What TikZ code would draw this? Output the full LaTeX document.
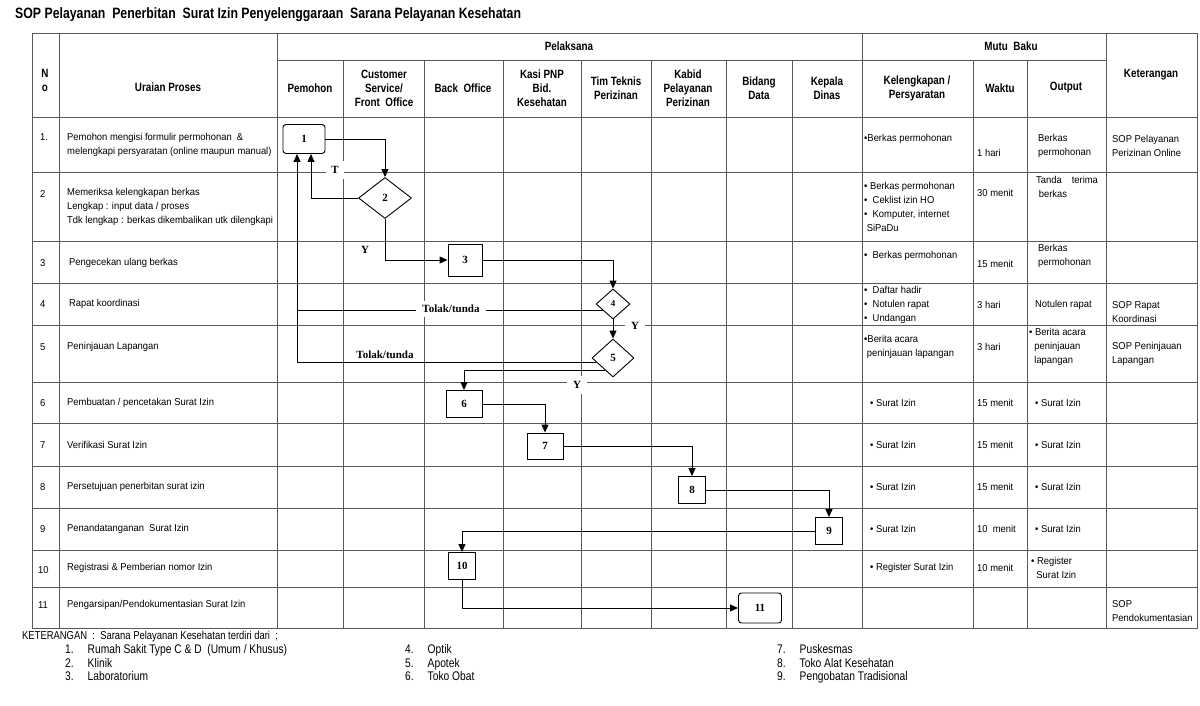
\documentclass[tikz,border=0pt]{standalone}
\usepackage{fontspec}
\setmainfont{Liberation Sans}
\newfontfamily\narrowfont[FakeStretch=0.82]{Liberation Sans}
\newfontfamily\condfont[FakeStretch=0.94]{Liberation Sans}
\newfontfamily\boxfont{Liberation Serif}
\usetikzlibrary{
  arrows.meta,
  shapes.geometric,
  backgrounds
}

\begin{document}
\begin{tikzpicture}[x=1pt,y=-1pt,
  gridline/.style={draw=black!65,line width=0.8pt},
  hd/.style={font=\narrowfont\bfseries\fontsize{12}{14}\selectfont,align=center,inner sep=0pt},
  tx/.style={font=\condfont\fontsize{10}{14}\selectfont,anchor=west,align=left,inner sep=0pt},
  ft/.style={font=\narrowfont\fontsize{11.5}{13.5}\selectfont,anchor=west,inner sep=0pt},
  procbox/.style={draw,line width=0.9pt,inner sep=0pt,font=\boxfont\bfseries\fontsize{11}{12}\selectfont},
  term/.style={procbox,rounded corners=3pt},
  decbox/.style={procbox,diamond},
  lbl/.style={font=\boxfont\bfseries\fontsize{11}{12}\selectfont,inner sep=2pt},
  ar/.style={-{Triangle[length=8pt,width=7pt]},line width=0.9pt}
]
\useasboundingbox (0,0) rectangle (1200,706);

\node[anchor=west,inner sep=0pt,font=\narrowfont\bfseries\fontsize{15}{17}\selectfont] (title) at (15,15) {SOP Pelayanan\ \ Penerbitan\ \ Surat Izin Penyelenggaraan\ \ Sarana Pelayanan Kesehatan};

% header
\node[hd] (hNo) at (45,80) {N\\o};
\node[hd] (hUraian) at (168,87) {Uraian Proses};
\node[hd] (hPelaksana) at (569,46) {Pelaksana};
\node[hd] (hMutu) at (1011,46) {Mutu\ \ Baku};
\node[hd] (hKet) at (1151,75) {Keterangan};
\node[hd] (hPemohon) at (310,88) {Pemohon};
\node[hd] (hCS) at (384,88) {Customer\\Service/\\Front\ \ Office};
\node[hd] (hBO) at (463,88) {Back\ \ Office};
\node[hd] (hKasi) at (542,88) {Kasi PNP\\Bid.\\Kesehatan};
\node[hd] (hTim) at (616,88) {Tim Teknis\\Perizinan};
\node[hd] (hKabid) at (688,88) {Kabid\\Pelayanan\\Perizinan};
\node[hd] (hBidang) at (759,88) {Bidang\\Data};
\node[hd] (hKepala) at (827,88) {Kepala\\Dinas};
\node[hd] (hKel) at (917,88) {Kelengkapan /\\Persyaratan};
\node[hd] (hWaktu) at (1000,88) {Waktu};
\node[hd] (hOutput) at (1066,88) {Output};

% rows
\node[tx] (no1) at (40,137) {1.};
\node[tx] (ur1) at (67,145) {Pemohon mengisi formulir permohonan\ \ \&\\melengkapi persyaratan (online maupun manual)};
\node[tx] (kl1) at (864,139) {•Berkas permohonan};
\node[tx] (wk1) at (977,153) {1 hari};
\node[tx] (op1) at (1038,146) {Berkas\\permohonan};
\node[tx] (kt1) at (1112,146) {SOP Pelayanan\\Perizinan Online};

\node[tx] (no2) at (40,194) {2};
\node[tx] (ur2) at (67,207) {Memeriksa kelengkapan berkas\\Lengkap : input data / proses\\Tdk lengkap : berkas dikembalikan utk dilengkapi};
\node[tx] (kl2) at (864,207) {• Berkas permohonan\\•\ \ Ceklist izin HO\\•\ \ Komputer, internet\\\ SiPaDu};
\node[tx] (wk2) at (977,193) {30 menit};
\node[tx] (op2) at (1036,187) {Tanda\hspace{10pt}terima\\\ berkas};

\node[tx] (no3) at (40,263) {3};
\node[tx] (ur3) at (69,263) {Pengecekan ulang berkas};
\node[tx] (kl3) at (864,256) {•\ \ Berkas permohonan};
\node[tx] (wk3) at (977,264) {15 menit};
\node[tx] (op3) at (1038,256) {Berkas\\permohonan};

\node[tx] (no4) at (40,304) {4};
\node[tx] (ur4) at (69,304) {Rapat koordinasi};
\node[tx] (kl4) at (864,305) {•\ \ Daftar hadir\\•\ \ Notulen rapat\\•\ \ Undangan};
\node[tx] (wk4) at (977,305) {3 hari};
\node[tx] (op4) at (1035,305) {Notulen rapat};
\node[tx] (kt4) at (1112,312) {SOP Rapat\\Koordinasi};

\node[tx] (no5) at (40,347) {5};
\node[tx] (ur5) at (67,347) {Peninjauan Lapangan};
\node[tx] (kl5) at (864,347) {•Berita acara\\\ peninjauan lapangan};
\node[tx] (wk5) at (977,347) {3 hari};
\node[tx] (op5) at (1029,347) {• Berita acara\\\ \ peninjauan\\\ \ lapangan};
\node[tx] (kt5) at (1112,354) {SOP Peninjauan\\Lapangan};

\node[tx] (no6) at (40,403) {6};
\node[tx] (ur6) at (67,403) {Pembuatan / pencetakan Surat Izin};
\node[tx] (kl6) at (870,403) {• Surat Izin};
\node[tx] (wk6) at (977,403) {15 menit};
\node[tx] (op6) at (1035,403) {• Surat Izin};

\node[tx] (no7) at (40,445) {7};
\node[tx] (ur7) at (67,445) {Verifikasi Surat Izin};
\node[tx] (kl7) at (870,445) {• Surat Izin};
\node[tx] (wk7) at (977,445) {15 menit};
\node[tx] (op7) at (1035,445) {• Surat Izin};

\node[tx] (no8) at (40,487) {8};
\node[tx] (ur8) at (67,487) {Persetujuan penerbitan surat izin};
\node[tx] (kl8) at (870,487) {• Surat Izin};
\node[tx] (wk8) at (977,487) {15 menit};
\node[tx] (op8) at (1035,487) {• Surat Izin};

\node[tx] (no9) at (40,529) {9};
\node[tx] (ur9) at (67,529) {Penandatanganan\ \ Surat Izin};
\node[tx] (kl9) at (870,529) {• Surat Izin};
\node[tx] (wk9) at (977,529) {10\ \ menit};
\node[tx] (op9) at (1035,529) {• Surat Izin};

\node[tx] (no10) at (38,570) {10};
\node[tx] (ur10) at (67,568) {Registrasi \& Pemberian nomor Izin};
\node[tx] (kl10) at (870,568) {• Register Surat Izin};
\node[tx] (wk10) at (977,568) {10 menit};
\node[tx] (op10) at (1031,568) {• Register\\\ \ Surat Izin};

\node[tx] (no11) at (38,605) {11};
\node[tx] (ur11) at (67,605) {Pengarsipan/Pendokumentasian Surat Izin};
\node[tx] (kt11) at (1112,611) {SOP\\Pendokumentasian};

% flow
\node[term,minimum width=42pt,minimum height=29pt] (b1) at (304,139) {1};
\node[decbox,minimum width=53pt,minimum height=41pt] (d2) at (385,198) {2};
\node[procbox,minimum width=34pt,minimum height=32pt] (b3) at (465,260) {3};
\node[decbox,minimum width=34pt,minimum height=30pt,font=\boxfont\bfseries\fontsize{9}{10}\selectfont] (d4) at (613,304) {4};
\node[decbox,minimum width=42pt,minimum height=38pt] (d5) at (613,358) {5};
\node[procbox,minimum width=36pt,minimum height=27pt] (b6) at (464,404) {6};
\node[procbox,minimum width=36pt,minimum height=26pt] (b7) at (545,446) {7};
\node[procbox,minimum width=27pt,minimum height=27pt] (b8) at (692,490) {8};
\node[procbox,minimum width=27pt,minimum height=27pt] (b9) at (829,531) {9};
\node[procbox,minimum width=27pt,minimum height=27pt] (b10) at (462,566) {10};
\node[term,minimum width=43pt,minimum height=30pt] (b11) at (760,608) {11};

\draw[ar] (b1.east) -| (d2.north);
\draw[ar] (d2.west) -| (b1.-65);
\draw[ar] (d2.south) |- (b3.west);
\draw[ar] (b3.east) -| (d4.north);
\draw[ar] (d4.south) -- (d5.north);
\draw[line width=0.9pt] (d4.215) -- (d4.215 -| b1.-115);
\draw[ar] (d5.195) -| (b1.-115);
\draw[ar] (d5.237) -| (b6.north);
\draw[ar] (b6.east) -| (b7.north);
\draw[ar] (b7.east) -| (b8.north);
\draw[ar] (b8.east) -| (b9.north);
\draw[ar] (b9.west) -| (b10.north);
\draw[ar] (b10.south) |- (b11.west);

\node[lbl,fill=white,inner xsep=5pt,inner ysep=5pt] (lT) at (335,170) {T};
\node[lbl] (lY1) at (365,250) {Y};
\node[lbl,fill=white,inner xsep=6pt,inner ysep=4pt] (lTolak1) at (451,309) {Tolak/tunda};
\node[lbl,fill=white,inner xsep=6pt] (lY2) at (635,326) {Y};
\node[lbl] (lTolak2) at (385,355) {Tolak/tunda};
\node[lbl,fill=white,inner xsep=6pt,inner ysep=5pt] (lY3) at (577,385) {Y};

% keterangan
\node[ft] (fKet) at (22,637) {KETERANGAN\ \ :\ \ Sarana Pelayanan Kesehatan terdiri dari\ \ ;};
\node[ft,font=\narrowfont\fontsize{12.5}{13.5}\selectfont] (fList1) at (65,664.5) {\begin{tabular}{@{}l@{\hspace{14pt}}l@{}}1. & Rumah Sakit Type C \& D\ \ (Umum / Khusus)\\2. & Klinik\\3. & Laboratorium\end{tabular}};
\node[ft,font=\narrowfont\fontsize{12.5}{13.5}\selectfont] (fList2) at (405,664.5) {\begin{tabular}{@{}l@{\hspace{14pt}}l@{}}4. & Optik\\5. & Apotek\\6. & Toko Obat\end{tabular}};
\node[ft,font=\narrowfont\fontsize{12.5}{13.5}\selectfont] (fList3) at (777,664.5) {\begin{tabular}{@{}l@{\hspace{14pt}}l@{}}7. & Puskesmas\\8. & Toko Alat Kesehatan\\9. & Pengobatan Tradisional\end{tabular}};

\begin{scope}[on background layer]
\draw[gridline] (32,33) rectangle (1197,628);
\draw[gridline] (277,60) -- (1106,60);
\draw[gridline] (32,117) -- (1197,117) (32,172) -- (1197,172) (32,241) -- (1197,241) (32,283) -- (1197,283)
  (32,325) -- (1197,325) (32,382) -- (1197,382) (32,423) -- (1197,423) (32,466) -- (1197,466)
  (32,508) -- (1197,508) (32,550) -- (1197,550) (32,587) -- (1197,587);
\draw[gridline] (59,33) -- (59,628) (277,33) -- (277,628) (862,33) -- (862,628) (1106,33) -- (1106,628);
\draw[gridline] (343,60) -- (343,628) (424,60) -- (424,628) (503,60) -- (503,628) (581,60) -- (581,628)
  (651,60) -- (651,628) (726,60) -- (726,628) (792,60) -- (792,628) (973,60) -- (973,628) (1027,60) -- (1027,628);
\end{scope}
\end{tikzpicture}
\end{document}
